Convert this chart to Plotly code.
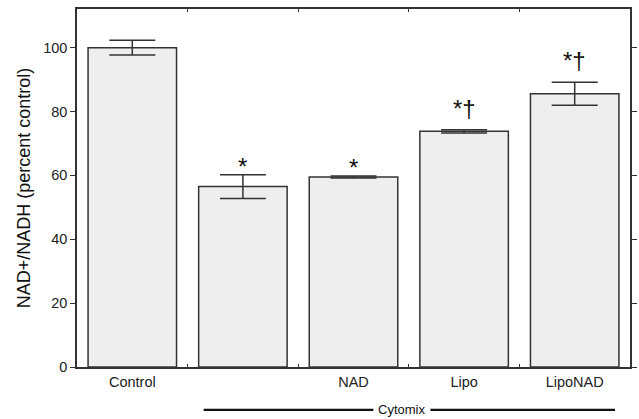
import plotly.graph_objects as go

categories = ["Control", "", "NAD", "Lipo", "LipoNAD"]
values = [100.0, 56.5, 59.5, 73.8, 85.6]
errors = [2.3, 3.7, 0.3, 0.5, 3.6]
sig_labels = ["", "*", "*", "*†", "*†"]
y_ticks = [0, 20, 40, 60, 80, 100]
group_label = "Cytomix"

FONT = "Liberation Sans, Arial, sans-serif"
DARK = "#333333"
x = list(range(len(categories)))
boundaries = [i + 0.5 for i in x[:-1]]

fig = go.Figure()
fig.add_trace(go.Bar(
    x=x, y=values, width=0.8,
    marker=dict(color="#eeeeee", line=dict(color=DARK, width=1.5)),
    error_y=dict(type="data", array=errors, visible=True,
                 color=DARK, thickness=1.5, width=23),
    showlegend=False, hoverinfo="skip",
))
# invisible trace that carries the category label axis
fig.add_trace(go.Scatter(x=x, y=values, xaxis="x2", mode="markers",
                         marker=dict(opacity=0), showlegend=False,
                         hoverinfo="skip"))

for xi, v, e, lab in zip(x, values, errors, sig_labels):
    if not lab:
        continue
    fig.add_annotation(
        x=xi, y=v + e, xref="x", yref="y", text=lab, showarrow=False,
        yanchor="bottom", yshift=(6 if "†" in lab else -7),
        font=dict(family=FONT, size=24, color="#111111"),
    )

# Cytomix group bracket
fig.add_shape(type="line", xref="paper", yref="paper",
              x0=0.229, x1=0.536, y0=-0.12, y1=-0.12,
              line=dict(color="#111111", width=2.2))
fig.add_shape(type="line", xref="paper", yref="paper",
              x0=0.639, x1=0.973, y0=-0.12, y1=-0.12,
              line=dict(color="#111111", width=2.2))
fig.add_annotation(x=0.587, y=-0.12, xref="paper", yref="paper",
                   text=group_label, showarrow=False,
                   xanchor="center", yanchor="middle",
                   font=dict(family=FONT, size=13, color="#111111"))

fig.update_layout(
    width=639, height=419,
    margin=dict(l=77, r=2, t=9, b=52),
    plot_bgcolor="white", paper_bgcolor="white",
    font=dict(family=FONT, color="#222222"),
    bargap=0.2,
    xaxis=dict(
        range=[-0.5, 4.5], tickmode="array", tickvals=boundaries,
        ticks="inside", ticklen=3, tickwidth=1, tickcolor=DARK,
        showticklabels=False, showgrid=False, zeroline=False,
        showline=True, linecolor=DARK, linewidth=1.5, mirror="ticks",
    ),
    xaxis2=dict(
        range=[-0.5, 4.5], overlaying="x", side="bottom", anchor="y",
        tickmode="array", tickvals=x, ticktext=categories, ticks="",
        showgrid=False, zeroline=False, showline=False,
        ticklabelstandoff=4,
        tickfont=dict(family=FONT, size=14.5, color="#222222"),
    ),
    yaxis=dict(
        range=[0, 112.1], tickmode="array", tickvals=y_ticks,
        ticks="outside", ticklen=5, tickwidth=1, tickcolor=DARK,
        showgrid=False, zeroline=False,
        showline=True, linecolor=DARK, linewidth=1.5, mirror="ticks",
        tickfont=dict(family=FONT, size=14.5, color="#222222"),
        title=dict(text="NAD+/NADH (percent control)", standoff=8,
                   font=dict(family=FONT, size=18, color="#111111")),
    ),
)

fig.write_html("out.html", config={"displayModeBar": False},
               post_script="document.body.style.margin='0';document.body.style.padding='0';")
